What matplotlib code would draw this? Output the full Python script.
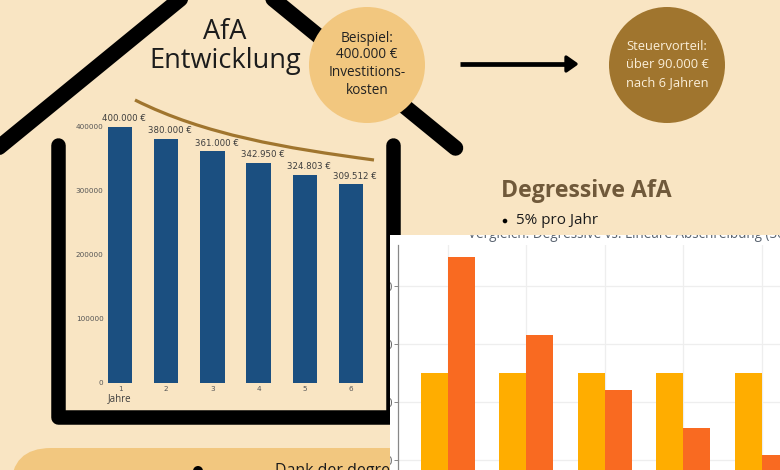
import matplotlib
matplotlib.use("Agg")
import matplotlib.pyplot as plt
from matplotlib.patches import Circle, FancyBboxPatch, PathPatch, Polygon, Rectangle
from matplotlib.path import Path
from matplotlib.transforms import Bbox

years = [1, 2, 3, 4, 5, 6]
afa_values = [400000, 380000, 361000, 342950, 324803, 309512]
afa_labels = ["400.000 €", "380.000 €", "361.000 €", "342.950 €", "324.803 €", "309.512 €"]
afa_ticks = [0, 100000, 200000, 300000, 400000]
linear_values = [5000, 5000, 5000, 5000, 5000]
degressive_values = [9000, 6300, 4410, 3087, 2161]
compare_ticks = [2000, 4000, 6000, 8000]

W, H = 780, 470
BG = "#F9E5C3"
plt.rcParams["font.family"] = "Open Sans"
fig = plt.figure(figsize=(7.8, 4.7), dpi=100, facecolor=BG)

def box(l, t, r, b):
    return [l / W, 1 - b / H, (r - l) / W, (b - t) / H]

deco = fig.add_axes([0, 0, 1, 1], zorder=0)
deco.set_xlim(0, W)
deco.set_ylim(H, 0)
deco.axis("off")

def thick(x, y, lw=13):
    deco.plot(x, y, color="black", lw=lw * 0.72, solid_capstyle="round", solid_joinstyle="round")

thick([-6, 184], [151.4, -4], lw=15.5)
thick([267, 455.5], [-6, 148], lw=15.5)
thick([57.5, 57.5, 392.5, 392.5], [145, 416.5, 416.5, 145], lw=14.5)

deco.add_patch(Circle((367, 65), 58, fc="#F2C77F", ec="none", zorder=3))
deco.add_patch(Circle((667, 65), 58, fc="#A0752E", ec="none", zorder=3))
deco.add_patch(FancyBboxPatch((11, 448), 520, 80, boxstyle="round,pad=0,rounding_size=40",
                              fc="#F2C77F", ec="none", zorder=2))
deco.add_patch(Circle((198, 471), 5, fc="black", ec="none", zorder=3))
deco.add_patch(PathPatch(Path([(135, 100), (205, 135), (285, 148), (374, 160)],
                              [Path.MOVETO, Path.CURVE4, Path.CURVE4, Path.CURVE4]),
                         fc="none", ec="#A0752E", lw=2.3, zorder=3))
deco.plot([460, 568], [64, 64], color="black", lw=3.4, zorder=3, solid_capstyle="butt")
deco.add_patch(Polygon([(566, 57), (576, 64), (566, 71)], closed=True, fc="black", ec="black",
                       lw=2.4, joinstyle="round", zorder=3))

deco.text(225, 32, "AfA", ha="center", va="center", fontsize=19.5, color="#1c1c1c")
deco.text(225, 61, "Entwicklung", ha="center", va="center", fontsize=19.5, color="#1c1c1c")
for txt, y in zip(["Beispiel:", "400.000 €", "Investitions-", "kosten"], [38, 55, 73, 91]):
    deco.text(367, y, txt, ha="center", va="center", fontsize=9.8, color="#222222", zorder=4)
for txt, y in zip(["Steuervorteil:", "über 90.000 €", "nach 6 Jahren"], [47, 65, 83]):
    deco.text(667, y, txt, ha="center", va="center", fontsize=9.3, color="#FBEFD9", zorder=4)
deco.text(501, 191, "Degressive AfA", ha="left", va="center", fontsize=16.6, fontweight="bold", color="#70593A")
deco.add_patch(Circle((505, 221), 2.3, fc="black", ec="none"))
deco.text(516, 220, "5% pro Jahr", ha="left", va="center", fontsize=11, color="#1c1c1c")
deco.text(275, 471, "Dank der degressiven", ha="left", va="center", fontsize=11.5, color="#1c1c1c", zorder=4)

# AfA bars
ax = fig.add_axes(box(100, 110, 372, 382.5), zorder=1)
ax.patch.set_alpha(0)
ax.bar(years, afa_values, width=0.53, color="#1B4F80")
ax.set_xlim(1 - 20 / 46.2, 6 + 21 / 46.2)
ax.set_ylim(0, 272.5 / 64 * 100000)
for s in ax.spines.values():
    s.set_visible(False)
ax.set_xticks(years)
ax.set_yticks(afa_ticks)
ax.tick_params(length=0, labelsize=5.2, labelcolor="#555555")
for t in ax.get_xticklabels() + ax.get_yticklabels():
    t.set_family("DejaVu Sans")
ax.tick_params(axis="x", pad=2.5)
ax.tick_params(axis="y", pad=-2.5)
for x, v, l in zip(years, afa_values, afa_labels):
    ax.annotate(l, (x, v), xytext=(3, 6), textcoords="offset points", ha="center", va="center",
                fontsize=6.2, color="#3d3d3d", family="DejaVu Sans")
deco.text(119.5, 398.5, "Jahre", ha="center", va="center", fontsize=7, color="#3d3d3d", zorder=5)

# White comparison panel
panel = Rectangle((390, 235), 390, 235, fc="white", ec="none", zorder=6)
deco.add_patch(panel)
clip = Bbox([[390 / W * fig.bbox.width, 0], [fig.bbox.width, (1 - 235 / H) * fig.bbox.height]])

ax2 = fig.add_axes(box(398.5, 245, 800, 518), zorder=2)
ax2.patch.set_alpha(0)
centers = list(range(len(linear_values)))
bw = 27 / 78.5
ax2.bar([c - bw / 2 for c in centers], linear_values, width=bw, color="#FFAD00", zorder=3)
ax2.bar([c + bw / 2 for c in centers], degressive_values, width=bw, color="#F96A21", zorder=3)
ax2.set_xlim((398.5 - 448) / 78.5, (800 - 448) / 78.5)
ax2.set_ylim(0, 273 / 29 * 1000)
ax2.grid(True, color="#EEEEEE", lw=0.9, zorder=0)
ax2.set_axisbelow(True)
ax2.set_xticks(centers)
ax2.set_yticks(compare_ticks)
ax2.tick_params(axis="x", length=0, labelbottom=False)
ax2.tick_params(axis="y", length=3, width=0.7, color="#888888", labelsize=9, labelcolor="#666666", pad=1)
for side in ("top", "right", "bottom"):
    ax2.spines[side].set_visible(False)
ax2.spines["left"].set_color("#888888")
ax2.spines["left"].set_linewidth(0.9)
fig.canvas.draw()
for t in ax2.get_yticklabels():
    t.set_clip_box(clip)
    t.set_clip_on(True)
title = fig.text(468 / W, 1 - 238.5 / H, "Vergleich: Degressive vs. Lineare Abschreibung (30%)",
                 ha="left", va="baseline", fontsize=9.75, color="#5A6470", zorder=8)
title.set_clip_box(clip)
title.set_clip_on(True)

fig.savefig("out.png", dpi=100, facecolor=BG)
